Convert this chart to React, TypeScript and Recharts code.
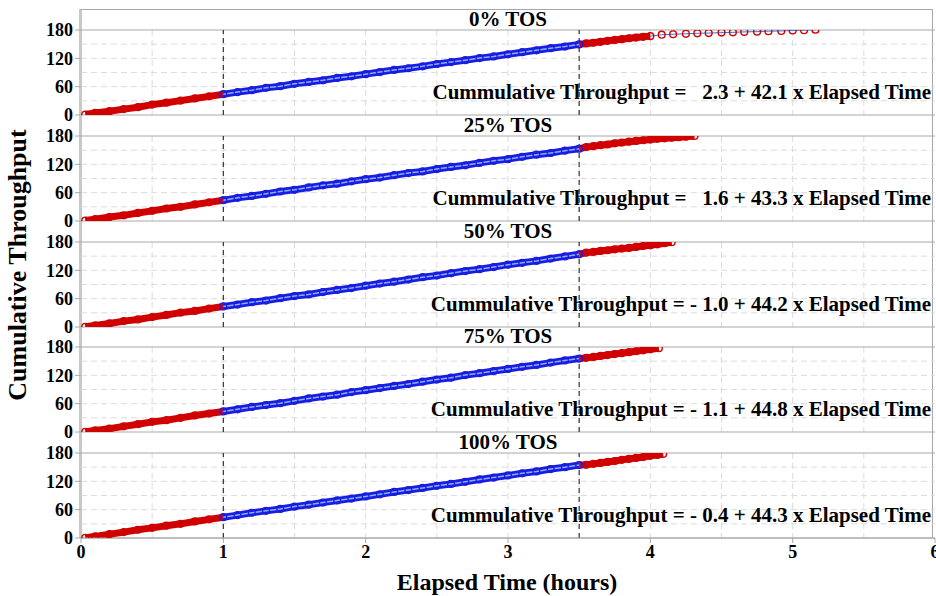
import React from "react";
import { ComposedChart, Line, Scatter, XAxis, YAxis, CartesianGrid, ReferenceLine } from "recharts";

// shared sampling times for the dense part of each run (hours)
const bandTime = [
  0.03, 0.1, 0.2, 0.3, 0.4, 0.5, 0.6, 0.7, 0.8, 0.9, 1.0,
  1.1, 1.2, 1.3, 1.4, 1.5, 1.6, 1.7, 1.8, 1.9, 2.0, 2.1, 2.2, 2.3, 2.4,
  2.5, 2.6, 2.7, 2.8, 2.9, 3.0, 3.1, 3.2, 3.3, 3.4, 3.5,
];

const tos0Thru = [
  1, 4.5, 8, 12.5, 16.5, 22, 26, 30.5, 35, 39.5, 44,
  48.5, 52.5, 57.5, 61, 66, 70, 73.5, 78.5, 82, 86.5, 91, 95.5, 99, 103,
  108, 112, 116, 120.5, 124, 128.5, 133, 137, 141.5, 145, 149.5,
];
const tos25Thru = [
  1, 4, 8.5, 12, 17, 21.5, 26.5, 30, 35, 39.5, 44,
  49, 53, 57.5, 62.5, 66, 71, 75.5, 79, 84, 88.5, 92, 97, 101.5, 105,
  110, 114.5, 118, 123, 127.5, 131, 136, 140.5, 144, 149, 153,
];
const tos50Thru = [
  0.5, 3.5, 7.5, 12.5, 16, 21, 25.5, 30.5, 34, 39, 43.5,
  47.5, 52.5, 56, 61, 65.5, 69, 74, 78.5, 82.5, 87.5, 92, 96, 100.5, 105.5,
  109, 114, 118.5, 122.5, 127, 132, 136, 140, 145, 149.5, 154,
];
const tos75Thru = [
  0.5, 3.5, 7, 12, 16.5, 21.5, 25, 30, 35, 39, 43.5,
  48, 53, 57, 61, 66, 71, 75, 79, 84.5, 88.5, 93, 97.5, 101.5, 106.5,
  111, 115, 120.5, 124.5, 129, 133.5, 138, 142, 147, 151.5, 155.5,
];
const tos100Thru = [
  0.5, 3.5, 8, 12.5, 17.5, 21.5, 26, 30, 35, 39.5, 44,
  48.5, 53.5, 57.5, 61.5, 66.5, 70.5, 75, 79.5, 83.5, 88, 92.5, 97.5, 101.5, 106,
  110.5, 114.5, 119, 124, 128, 132.5, 137, 141, 146, 150, 154.5,
];

// tails after 3.5 h
const tos0TailTime = [3.55, 3.6, 3.65, 3.7, 3.75, 3.8, 3.85, 3.9, 3.95, 4.0, 4.08, 4.16, 4.25, 4.33, 4.41, 4.5, 4.58, 4.66, 4.75, 4.83, 4.92, 5.0, 5.08, 5.16];
const tos0TailThru = [151.5, 153, 155, 157, 159, 160.5, 162.5, 164, 165.5, 167, 170, 171, 172, 173, 173.5, 174.5, 175, 176, 176.5, 177.5, 178, 179, 179.5, 180.5];
const tos25TailTime = [3.55, 3.6, 3.65, 3.7, 3.75, 3.8, 3.85, 3.9, 3.95, 4.0, 4.05, 4.1, 4.15, 4.2, 4.25, 4.31];
const tos25TailThru = [156.5, 158.5, 160.5, 162, 164.5, 166, 168, 169.5, 171, 172.5, 174, 175, 176.5, 177.5, 178.5, 180];
const tos50TailTime = [3.55, 3.6, 3.65, 3.7, 3.75, 3.8, 3.85, 3.9, 3.95, 4.0, 4.05, 4.1, 4.15];
const tos50TailThru = [157.5, 159, 161, 162.5, 164.5, 166, 167.5, 169.5, 171.5, 173, 175, 177.5, 179.5];
const tos75TailTime = [3.55, 3.6, 3.65, 3.7, 3.75, 3.8, 3.85, 3.9, 3.95, 4.0, 4.06];
const tos75TailThru = [157, 159, 161, 163, 165, 167, 169, 171, 173, 175, 177.5];
const tos100TailTime = [3.55, 3.6, 3.65, 3.7, 3.75, 3.8, 3.85, 3.9, 3.95, 4.0, 4.05, 4.09];
const tos100TailThru = [155, 157, 159, 161, 163, 165.5, 167.5, 169.5, 171.5, 174, 176, 178];

const panelTitles = ["0% TOS", "25% TOS", "50% TOS", "75% TOS", "100% TOS"];
const equations = [
  "Cummulative Throughput =   2.3 + 42.1 x Elapsed Time",
  "Cummulative Throughput =   1.6 + 43.3 x Elapsed Time",
  "Cummulative Throughput = - 1.0 + 44.2 x Elapsed Time",
  "Cummulative Throughput = - 1.1 + 44.8 x Elapsed Time",
  "Cummulative Throughput = - 0.4 + 44.3 x Elapsed Time",
];
const panelThru = [tos0Thru, tos25Thru, tos50Thru, tos75Thru, tos100Thru];
const panelTailTime = [tos0TailTime, tos25TailTime, tos50TailTime, tos75TailTime, tos100TailTime];
const panelTailThru = [tos0TailThru, tos25TailThru, tos50TailThru, tos75TailThru, tos100TailThru];
// where the dense red tail turns into single circles
const denseTailEnd = [4.0, 9, 9, 9, 9];

const xTicks = [0, 1, 2, 3, 4, 5, 6];
const yTicks = [0, 60, 120, 180];
const gridX = [0.5, 1, 1.5, 2, 2.5, 3, 3.5, 4, 4.5, 5, 5.5];
const gridY = [30, 60, 90, 120, 150];
const phaseStart = 1;
const phaseEnd = 3.5;

const RED = "#d10000";
const BLUE = "#1c1ce0";
const LIGHT = "#7eb2ff";
const FONT = '"Liberation Serif", "Times New Roman", serif';
const W = 936;
const HEADER = 21;
const PLOT_H = 85;
const PLOT_LEFT = 81;
const SPILL = 12; // room below each plot so its "0" label is not clipped

const panelTop = (i: number) => Math.round(9 + i * 105.75);

const ring = (color: string) => (p: any) =>
  p.cx == null ? <g /> : <circle cx={p.cx} cy={p.cy} r={3.4} fill="none" stroke={color} strokeWidth={1.4} />;

function Panel({ i }: { i: number }) {
  const band = bandTime.map((t, k) => ({ t, y: panelThru[i][k] }));
  const tail = panelTailTime[i].map((t, k) => ({ t, y: panelTailThru[i][k] }));
  const early = band.filter((d) => d.t <= phaseStart);
  const mid = band.filter((d) => d.t >= phaseStart && d.t <= phaseEnd);
  const last = band[band.length - 1];
  const tailAll = [last, ...tail];
  const tailDense = tailAll.filter((d) => d.t <= denseTailEnd[i]);
  const tailSparse = tailAll.filter((d) => d.t >= denseTailEnd[i]);
  const redPts = [...band.filter((d) => d.t < phaseStart), ...tail];
  const bluePts = mid;
  const isLast = i === 4;

  return (
    <div style={{ position: "absolute", left: 0, top: panelTop(i) }}>
      <ComposedChart
        width={W}
        height={HEADER + PLOT_H + (isLast ? 30 : SPILL)}
        margin={{ top: HEADER, right: 1, bottom: isLast ? 0 : SPILL, left: 0 }}
      >
        <CartesianGrid
          stroke="#dcdcdc"
          strokeDasharray="6 4"
          verticalValues={gridX}
          horizontalValues={gridY}
        />
        <XAxis
          dataKey="t"
          type="number"
          domain={[0, 6]}
          ticks={xTicks}
          interval={0}
          hide={!isLast}
          allowDataOverflow
          height={30}
          axisLine={{ stroke: "#a8a8a8" }}
          tickLine={{ stroke: "#a8a8a8" }}
          tickSize={5}
          tick={{ fill: "#000", fontSize: 18, fontWeight: 700, fontFamily: FONT }}
        />
        <YAxis
          dataKey="y"
          type="number"
          domain={[0, 180]}
          ticks={yTicks}
          interval={0}
          allowDataOverflow
          width={PLOT_LEFT}
          axisLine={false}
          tickLine={{ stroke: "#a8a8a8" }}
          tickSize={6}
          tick={{ fill: "#000", fontSize: 18, fontWeight: 700, fontFamily: FONT }}
        />
        <ReferenceLine y={180} stroke="#a8a8a8" />
        <ReferenceLine y={0} stroke="#a8a8a8" />
        <ReferenceLine x={phaseStart} stroke="#333" strokeDasharray="5 4" strokeWidth={1.2} />
        <ReferenceLine x={phaseEnd} stroke="#333" strokeDasharray="5 4" strokeWidth={1.2} />
        <Line data={early} dataKey="y" stroke={RED} strokeWidth={7} dot={false} isAnimationActive={false} />
        <Line data={mid} dataKey="y" stroke={BLUE} strokeWidth={7} dot={false} isAnimationActive={false} />
        <Line data={tailDense} dataKey="y" stroke={RED} strokeWidth={7} dot={false} isAnimationActive={false} />
        <Scatter data={redPts} shape={ring(RED)} isAnimationActive={false} />
        <Scatter data={bluePts} shape={ring(BLUE)} isAnimationActive={false} />
        <Line data={mid} dataKey="y" stroke={LIGHT} strokeWidth={1.5} dot={false} isAnimationActive={false} />
        <Line data={tailSparse} dataKey="y" stroke="#3a6fd8" strokeWidth={1} dot={false} isAnimationActive={false} />
      </ComposedChart>
    </div>
  );
}

const textBase: React.CSSProperties = {
  position: "absolute",
  fontFamily: FONT,
  fontWeight: 700,
  color: "#000",
  whiteSpace: "pre",
};

export default function App() {
  const bottom = panelTop(4) + HEADER + PLOT_H;
  return (
    <div style={{ position: "absolute", left: 0, top: 0, width: W, height: 596, background: "#fff", overflow: "hidden" }}>
      {/* outer frame through the header strips */}
      <div
        style={{
          position: "absolute",
          left: PLOT_LEFT - 2,
          top: 9,
          width: W - PLOT_LEFT - 1,
          height: bottom - 9,
          borderTop: "1px solid #a8a8a8",
          borderRight: "1px solid #a8a8a8",
          borderLeft: "3px solid #c8c8c8",
          boxSizing: "border-box",
        }}
      />
      {panelTitles.map((_, i) => (
        <Panel key={i} i={i} />
      ))}
      {panelTitles.map((title, i) => (
        <div
          key={"t" + i}
          style={{ ...textBase, left: PLOT_LEFT, width: W - PLOT_LEFT - 1, top: panelTop(i), height: HEADER, lineHeight: HEADER + "px", textAlign: "center", fontSize: 21 }}
        >
          {title}
        </div>
      ))}
      {equations.map((eq, i) => (
        <div
          key={"e" + i}
          style={{ ...textBase, right: 5, top: panelTop(i) + HEADER + 49, height: 26, lineHeight: "26px", textAlign: "right", fontSize: 21 }}
        >
          {eq}
        </div>
      ))}
      <div style={{ ...textBase, left: 18 - 160, top: 265 - 14, width: 320, height: 28, lineHeight: "28px", textAlign: "center", fontSize: 26, transform: "rotate(-90deg)" }}>
        Cumulative Throughput
      </div>
      <div style={{ ...textBase, left: 307, top: 568, width: 400, height: 28, lineHeight: "28px", textAlign: "center", fontSize: 24 }}>
        Elapsed Time (hours)
      </div>
    </div>
  );
}
